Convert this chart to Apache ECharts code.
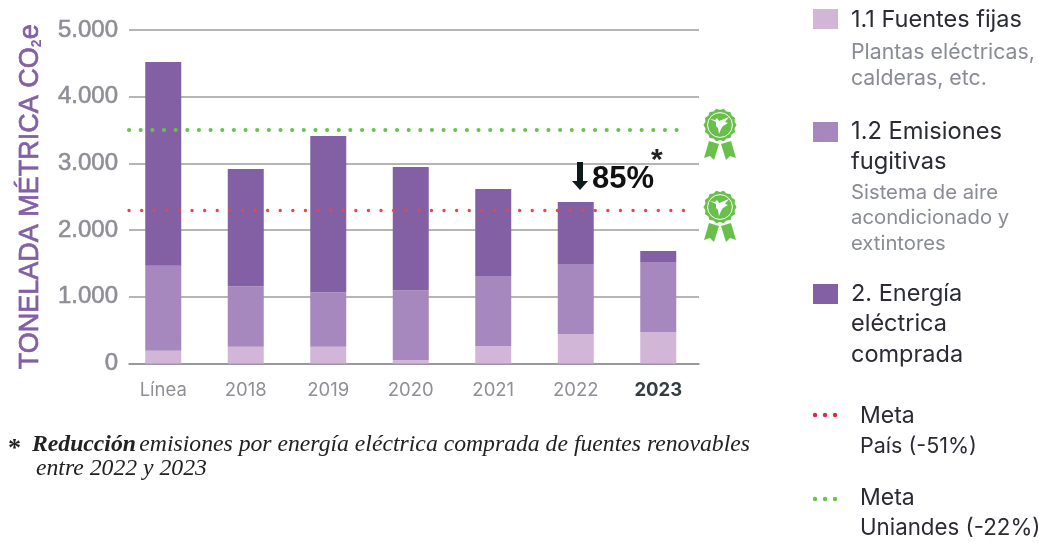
<!DOCTYPE html>
<html>
<head>
<meta charset="utf-8">
<style>html,body{margin:0;padding:0;background:#fff}#c{width:1039px;height:543px}</style>
<script src="https://cdn.jsdelivr.net/npm/echarts@6/dist/echarts.min.js"></script>
</head>
<body>
<div id="c"></div>
<script>
const categories = ['Línea', '2018', '2019', '2020', '2021', '2022', '2023'];
const fuentesFijas = [190, 250, 250, 50, 260, 440, 470];
const emisionesFugitivas = [1275, 910, 820, 1050, 1050, 1050, 1050];
const energiaComprada = [3055, 1755, 2340, 1845, 1305, 930, 165];
const metaPais = 2300;
const metaUniandes = 3505;

const LIGHT = '#d1b6d8', MID = '#a688bf', DARK = '#8260a3', RED = '#ee4444', GREEN = '#63c54a', MEDAL = '#68c04b';
const INK = '#2a2b33', GRAY = '#898c92';
const UI = 'Inter, "Noto Sans", sans-serif';
const ARIAL = '"Liberation Sans", Arial, sans-serif';
const SERIF = '"Liberation Serif", serif';

function fmt(v) { return String(v).replace(/\B(?=(\d{3})+$)/g, '.'); }

function text(x, y, t, size, fill, extra) {
  return { type: 'text', x: x, y: y, z: 10, style: Object.assign({ text: t, font: size + 'px ' + UI, fill: fill, verticalAlign: 'middle' }, extra || {}) };
}
function rect(x, y, w, h, fill) { return { type: 'rect', z: 10, shape: { x: x, y: y, width: w, height: h }, style: { fill: fill } }; }
function dots(y, fill) {
  return [815, 825, 835].map(function (x) { return { type: 'circle', z: 10, shape: { cx: x, cy: y, r: 2.2 }, style: { fill: fill } }; });
}
function medal(cx, cy) {
  const pts = [];
  const n = 14;
  for (let i = 0; i < n * 2; i++) {
    const a = Math.PI * i / n, r = i % 2 ? 15 : 16.6;
    pts.push([r * Math.cos(a), r * Math.sin(a)]);
  }
  return {
    type: 'group', x: cx, y: cy, z: 10,
    children: [
      { type: 'polygon', shape: { points: [[-11, 16], [-1, 19], [-6, 35], [-10, 31], [-16, 33]] }, style: { fill: MEDAL } },
      { type: 'polygon', shape: { points: [[1, 19], [11, 16], [16, 33], [10, 31], [6, 35]] }, style: { fill: MEDAL } },
      { type: 'polygon', shape: { points: pts }, style: { fill: MEDAL } },
      { type: 'circle', shape: { cx: 0, cy: 0, r: 12.4 }, style: { fill: 'none', stroke: '#fff', lineWidth: 1 } },
      { type: 'polygon', shape: { points: [[-10, -6], [-5, -5], [-3, -7], [-1, -4], [9, -8], [5, -3], [8, -2], [3, 1], [1, 4], [-1, 9], [-2, 3], [-4, 1], [-4, -3]] }, style: { fill: '#fff' } }
    ]
  };
}

const graphics = [
  rect(813, 9, 25, 20, LIGHT),
  text(851, 20, '1.1 Fuentes fijas', 23.5, INK),
  text(851, 53, 'Plantas eléctricas,', 21.3, GRAY),
  text(851, 79, 'calderas, etc.', 21.3, GRAY),
  rect(813, 122, 25, 20, MID),
  text(851, 132, '1.2 Emisiones', 23.7, INK),
  text(851, 162, 'fugitivas', 23.7, INK),
  text(851, 193, 'Sistema de aire', 20.3, GRAY),
  text(851, 218, 'acondicionado y', 20.3, GRAY),
  text(851, 244, 'extintores', 20.3, GRAY),
  rect(813, 284, 25, 20, DARK),
  text(851, 294, '2. Energía', 23.5, INK),
  text(851, 324, 'eléctrica', 23.5, INK),
  text(851, 355, 'comprada', 23.5, INK),
  ...dots(415, '#e2283f'),
  text(860, 416, 'Meta', 23, INK),
  text(860, 447, 'País (-51%)', 21.5, INK),
  ...dots(499, GREEN),
  text(860, 498, 'Meta', 23, INK),
  text(860, 528, 'Uniandes (-22%)', 22.3, INK),
  medal(720, 125),
  medal(720, 207),
  { type: 'polygon', z: 10, shape: { points: [[577, 162], [583, 162], [583, 181], [588, 181], [580, 190], [572, 181], [577, 181]] }, style: { fill: '#0d1a1a' } },
  text(592, 179, '85%', 31, '#111', { font: 'bold 31px ' + ARIAL }),
  text(651, 161, '*', 30, '#222', { font: 'bold 30px ' + ARIAL }),
  text(8, 449, '*', 26, '#222', { font: 'bold 26px ' + SERIF }),
  { type: 'text', x: 32, y: 445, z: 10, style: { text: '{b|Reducción} {i|emisiones por energía eléctrica comprada de fuentes renovables}', verticalAlign: 'middle', rich: {
      b: { font: 'italic bold 23.7px ' + SERIF, fill: '#222' },
      i: { font: 'italic 23.7px ' + SERIF, fill: '#222' } } } },
  text(36, 469, 'entre 2022 y 2023', 23.7, '#222', { font: 'italic 23.7px ' + SERIF })
];

function bar(name, data, color) {
  return { name: name, type: 'bar', xAxisIndex: 1, yAxisIndex: 1, stack: 'total', barWidth: 36, data: data, itemStyle: { color: color }, z: 2, silent: true };
}
function target(value, xEnd) {
  return [{ x: 129, yAxis: value, symbol: 'none' }, { x: xEnd, yAxis: value, symbol: 'none' }];
}

const chart = echarts.init(document.getElementById('c'), null, { renderer: 'canvas' });
chart.setOption({
  animation: false,
  backgroundColor: '#fff',
  grid: [
    { left: 129, right: 340, top: 30, bottom: 179.5 },
    { left: 122, right: 339.5, top: 30, bottom: 179.5 }
  ],
  xAxis: [
    { gridIndex: 0, type: 'category', data: categories, axisTick: { show: false }, axisLabel: { show: false }, axisLine: { lineStyle: { color: '#8f8f98', width: 1.5 } } },
    { gridIndex: 1, type: 'category', data: categories, axisTick: { show: false }, axisLine: { show: false },
      axisLabel: { interval: 0, margin: 17, fontSize: 18.5, fontFamily: UI, color: '#8f9097', formatter: function (v) { return v === '2023' ? '{h|2023}' : v; }, rich: { h: { fontSize: 18.5, fontWeight: 'bold', fontFamily: UI, color: '#333d42' } } } }
  ],
  yAxis: [
    { gridIndex: 0, type: 'value', min: 0, max: 5000, interval: 1000, axisLabel: { show: false }, axisLine: { show: false }, axisTick: { show: false },
      splitLine: { lineStyle: { color: '#9c9ca2', width: 1.5 } } },
    { gridIndex: 1, type: 'value', min: 0, max: 5000, interval: 1000, axisLine: { show: false }, axisTick: { show: false }, splitLine: { show: false },
      axisLabel: { margin: 4, fontSize: 24, fontFamily: ARIAL, color: '#8e8e96', textBorderColor: '#8e8e96', textBorderWidth: 0.6, formatter: function (v) { return fmt(v); } },
      name: '{a|TONELADA MÉTRICA CO}{s|2}{a|e}', nameLocation: 'middle', nameRotate: 90, nameGap: 78,
      nameTextStyle: { rich: { a: { fontSize: 27, fontFamily: ARIAL, color: DARK, textBorderColor: DARK, textBorderWidth: 0.7 }, s: { fontSize: 14, fontWeight: 'bold', fontFamily: ARIAL, color: DARK, verticalAlign: 'bottom', padding: [8, 0, 0, 0] } } } }
  ],
  series: [
    bar('1.1 Fuentes fijas', fuentesFijas, LIGHT),
    bar('1.2 Emisiones fugitivas', emisionesFugitivas, MID),
    bar('2. Energía eléctrica comprada', energiaComprada, DARK),
    { name: 'Meta País (-51%)', type: 'line', xAxisIndex: 1, yAxisIndex: 1, data: [], z: 5, silent: true,
      markLine: { silent: true, z: 5, label: { show: false }, lineStyle: { color: RED, width: 3.3, type: [0.1, 12.5], cap: 'round' }, data: [target(metaPais, 694)] } },
    { name: 'Meta Uniandes (-22%)', type: 'line', xAxisIndex: 1, yAxisIndex: 1, data: [], z: 5, silent: true,
      markLine: { silent: true, z: 5, label: { show: false }, lineStyle: { color: GREEN, width: 4, type: [0.1, 11.55], cap: 'round' }, data: [target(metaUniandes, 687)] } }
  ],
  graphic: graphics
});
</script>
</body>
</html>
